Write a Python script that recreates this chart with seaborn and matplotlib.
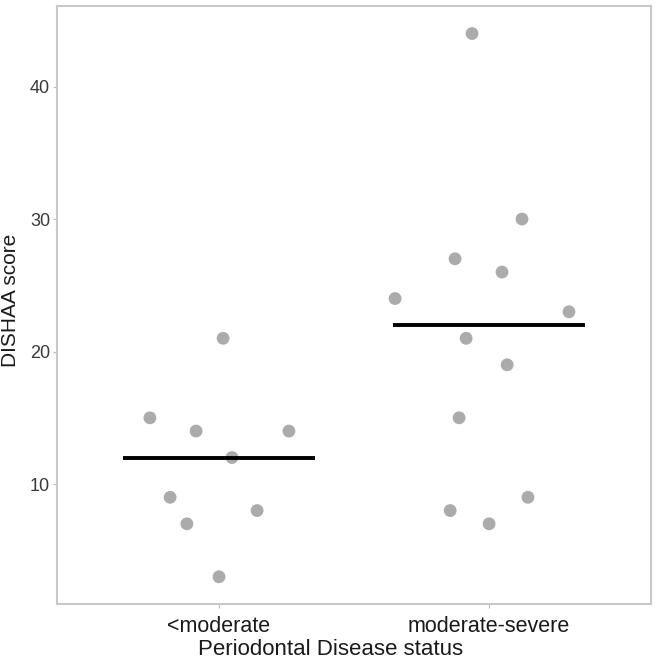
import numpy as np
import pandas as pd
import matplotlib
matplotlib.use("Agg")
import matplotlib.pyplot as plt
import seaborn as sns

categories = ["<moderate", "moderate-severe"]
scores_low = [15, 9, 7, 14, 3, 21, 12, 8, 14]
jitter_low = [-0.256, -0.181, -0.119, -0.085, 0.0, 0.015, 0.048, 0.141, 0.259]
scores_high = [24, 27, 15, 21, 44, 8, 7, 26, 19, 30, 9, 23]
jitter_high = [-0.348, -0.126, -0.111, -0.085, -0.063, -0.144, 0.0, 0.048, 0.067, 0.122, 0.144, 0.296]
y_ticks = [10, 20, 30, 40]

df = pd.DataFrame({
    "group": [categories[0]] * len(scores_low) + [categories[1]] * len(scores_high),
    "score": scores_low + scores_high,
    "jit": jitter_low + jitter_high,
})
df["code"] = df["group"].map({c: i for i, c in enumerate(categories)})
df["xpos"] = df["code"] + df["jit"]

sns.set_theme(style="white")
plt.rcParams["font.family"] = ["Liberation Sans", "DejaVu Sans"]

fig = plt.figure(figsize=(6.66, 6.64), dpi=100)
ax = fig.add_axes([0.0856, 0.0904, 0.892, 0.9])

sns.scatterplot(data=df, x="xpos", y="score", ax=ax, color="#ababab",
                s=85, edgecolor="none", linewidth=0, zorder=2)

med = df.groupby("code")["score"].median()
ax.hlines(med.values, med.index - 0.356, med.index + 0.356, colors="black",
          linewidth=2.8, zorder=3)

ax.set_xlim(-0.6, 1.6)
ax.set_ylim(0.95, 46.05)
ax.set_xticks(range(len(categories)))
ax.set_xticklabels(categories)
ax.set_yticks(y_ticks)
ax.tick_params(axis="both", length=3, width=0.8, color="#bbbbbb",
               left=True, bottom=True)
ax.tick_params(axis="y", labelsize=13, labelcolor="#3a3a3a", pad=2)
ax.tick_params(axis="x", labelsize=15.5, labelcolor="#1a1a1a", pad=6)
for sp in ax.spines.values():
    sp.set_color("#c8c8c8")
    sp.set_linewidth(1.5)
ax.set_xlabel("Periodontal Disease status", fontsize=16, color="#1a1a1a")
ax.set_ylabel("DISHAA score", fontsize=15, color="#1a1a1a")
ax.xaxis.set_label_coords(0.46, -0.058)
ax.yaxis.set_label_coords(-0.063, 0.508)

fig.savefig("out.png", dpi=100, facecolor="white")
